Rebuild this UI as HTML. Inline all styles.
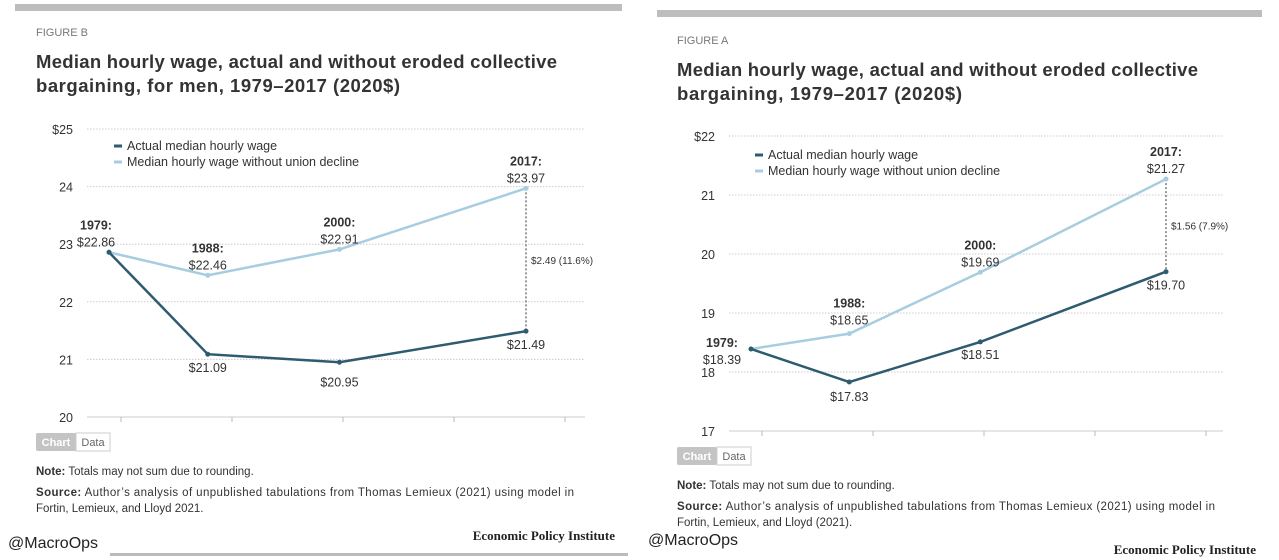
<!DOCTYPE html>
<html><head><meta charset="utf-8"><style>
body{margin:0;width:1279px;height:560px;background:#fff;overflow:hidden;font-family:"Liberation Sans",sans-serif}
svg{position:absolute;left:0;top:0}
</style></head><body>
<svg id="c" width="1279" height="560"></svg>
<script>
const years=[1979,1988,2000,2017];
const menActual=[22.86,21.09,20.95,21.49];
const menNoUnion=[22.86,22.46,22.91,23.97];
const allActual=[18.39,17.83,18.51,19.70];
const allNoUnion=[18.39,18.65,19.69,21.27];
const menTicks=[20,21,22,23,24,25];
const allTicks=[17,18,19,20,21,22];
const menGapLabel='$2.49 (11.6%)';
const allGapLabel='$1.56 (7.9%)';
const DARK="#2e5b70",LIGHT="#a8cde0";
const svg=document.getElementById('c');
const NS="http://www.w3.org/2000/svg";
function el(t,a,txt){const e=document.createElementNS(NS,t);for(const k in a)e.setAttribute(k,a[k]);if(txt!=null)e.textContent=txt;svg.appendChild(e);return e;}
function txt(x,y,s,o){o=o||{};const e=el('text',{x:x,y:y,'font-size':o.fs||12,fill:o.fill||'#333','font-weight':o.fw||'normal','text-anchor':o.anchor||'start','font-family':o.ff||'"Liberation Sans",sans-serif'},s);if(o.tl)e.setAttribute('textLength',o.tl);return e;}

function panel(p){
  const X=y=>p.x0+(y-1979)*(p.x1-p.x0)/(2017-1979);
  const Y=v=>p.y0-(v-p.tmin)*(p.y0-p.y1)/(p.tmax-p.tmin);
  let e=el('rect',{x:p.barX,y:p.barY,width:p.barW,height:7,fill:'#bdbdbd'});
  
  
  e=txt(p.fx,p.figY,p.fig,{fs:11,fill:'#777'});
  
  
  p.title.forEach((t,i)=>{e=txt(p.fx,p.titleY+i*24,t,{fs:18.5,fw:'bold',fill:'#333',tl:p.titleW[i]});
    
    });
  p.ticks.forEach((t,i)=>{
    const y=Y(t);
    e=el('line',{x1:p.gx0,x2:p.gx1,y1:y,y2:y,stroke:'#ccc','stroke-dasharray':i==0?'':'1.5,1.5','stroke-width':1});
    
    
    e=txt(p.gx0-14,y+5,(i==p.ticks.length-1?'$':'')+t,{fs:12.5,anchor:'end'});
    
    
  });
  for(let i=0;i<5;i++){const x=p.tx0+i*p.tdx;
    e=el('line',{x1:x,x2:x,y1:Y(p.tmin),y2:Y(p.tmin)+5,stroke:'#bbb'});
    
    }
  const li=years.length-1;
  e=el('line',{x1:X(years[li]),x2:X(years[li]),y1:Y(p.nu[li]),y2:Y(p.ac[li]),stroke:'#333','stroke-dasharray':'2,2'});
  
  
  e=txt(X(years[li])+5,(Y(p.nu[li])+Y(p.ac[li]))/2+4,p.gap,{fs:10});
  
  
  [[p.nu,LIGHT,'line-without-union-decline'],[p.ac,DARK,'line-actual-wage']].forEach(([s,c,n])=>{
    e=el('polyline',{points:s.map((v,i)=>X(years[i])+','+Y(v)).join(' '),fill:'none',stroke:c,'stroke-width':2.5});
    
    
    s.forEach((v,i)=>{e=el('circle',{cx:X(years[i]),cy:Y(v),r:2.5,fill:c});
      
      });
  });
  p.labels.forEach(l=>{
    const x=X(years[l.i]);const v=l.s=='nu'?p.nu[l.i]:p.ac[l.i];const y=Y(v);
    if(l.year){e=txt(x+(l.dx||0),y+l.dy-17,years[l.i]+(l.sp?' :':':'),{fs:12.5,fw:'bold',anchor:l.a||'middle'});
      
      }
    e=txt(x+(l.dx||0),y+l.dy,'$'+v.toFixed(2),{fs:12.5,anchor:l.a||'middle'});
    
    
  });
  [[DARK,'Actual median hourly wage'],[LIGHT,'Median hourly wage without union decline']].forEach(([c,t],i)=>{
    e=el('line',{x1:p.lx,x2:p.lx+8,y1:p.ly+i*16-4,y2:p.ly+i*16-4,stroke:c,'stroke-width':3});
    
    
    e=txt(p.lx+13,p.ly+i*16,t,{fs:12.5});
    
    
  });
  const ty=Y(p.tmin)+16;
  e=el('rect',{x:p.fx,y:ty,width:40,height:18,fill:'#c4c4c4',rx:2});
  
  
  e=el('rect',{x:p.fx+40,y:ty,width:34,height:18,fill:'#fff',stroke:'#ccc'});
  
  
  txt(p.fx+20,ty+13,'Chart',{fs:11,fill:'#fff',fw:'bold',anchor:'middle'});
  txt(p.fx+57,ty+13,'Data',{fs:11,fill:'#666',anchor:'middle'});
  const ny=ty+42;
  e=txt(p.fx,ny,'',{fs:11.5});e.innerHTML='<tspan font-weight="bold">Note:</tspan> Totals may not sum due to rounding.';
  
  
  e=txt(p.fx,ny+21,'',{fs:11.5,tl:538});e.innerHTML='<tspan font-weight="bold">Source:</tspan> Author\u2019s analysis of unpublished tabulations from Thomas Lemieux (2021) using model in';
  
  
  e=txt(p.fx,ny+37,p.src2,{fs:11.5});
  
  
}
panel({x0:109,x1:526,y0:417,y1:129,tmin:20,tmax:25,ticks:menTicks,ac:menActual,nu:menNoUnion,gap:menGapLabel,
 gx0:87,gx1:585,tx0:121,tdx:111,barX:15,barY:4,barW:607,fx:36,figY:36,fig:'FIGURE B',
 title:['Median hourly wage, actual and without eroded collective','bargaining, for men, 1979\u20132017 (2020$)'],titleW:[521,364],titleY:68,
 lx:114,ly:150,src2:'Fortin, Lemieux, and Lloyd 2021.',
 labels:[{i:0,s:'nu',dy:-6,year:1,dx:-13},{i:1,s:'nu',dy:-6,year:1},{i:2,s:'nu',dy:-6,year:1},{i:3,s:'nu',dy:-6,year:1},
 {i:1,s:'ac',dy:18},{i:2,s:'ac',dy:24},{i:3,s:'ac',dy:18}]});
panel({x0:751,x1:1166,y0:431,y1:136,tmin:17,tmax:22,ticks:allTicks,ac:allActual,nu:allNoUnion,gap:allGapLabel,
 gx0:729,gx1:1223,tx0:762,tdx:111,barX:657,barY:10,barW:605,fx:677,figY:44,fig:'FIGURE A',
 title:['Median hourly wage, actual and without eroded collective','bargaining, 1979\u20132017 (2020$)'],titleW:[521,285],titleY:76,
 lx:755,ly:159,src2:'Fortin, Lemieux, and Lloyd (2021).',
 labels:[{i:0,s:'nu',dy:15,year:1,dx:-29},{i:1,s:'nu',dy:-9,year:1},{i:2,s:'nu',dy:-6,year:1},{i:3,s:'nu',dy:-6,year:1},
 {i:1,s:'ac',dy:19},{i:2,s:'ac',dy:17},{i:3,s:'ac',dy:18}]});
let e=txt(8,548,'@MacroOps',{fs:16,fill:'#222'});


e=txt(648,545,'@MacroOps',{fs:16,fill:'#222'});


e=txt(615,540,'Economic Policy Institute',{fs:13,fw:'bold',anchor:'end',ff:'"Liberation Serif",serif',fill:'#222'});


e=txt(1256,554,'Economic Policy Institute',{fs:13,fw:'bold',anchor:'end',ff:'"Liberation Serif",serif',fill:'#222'});


e=el('rect',{x:110,y:553,width:518,height:3,fill:'#bbb'});


</script>
</body></html>
